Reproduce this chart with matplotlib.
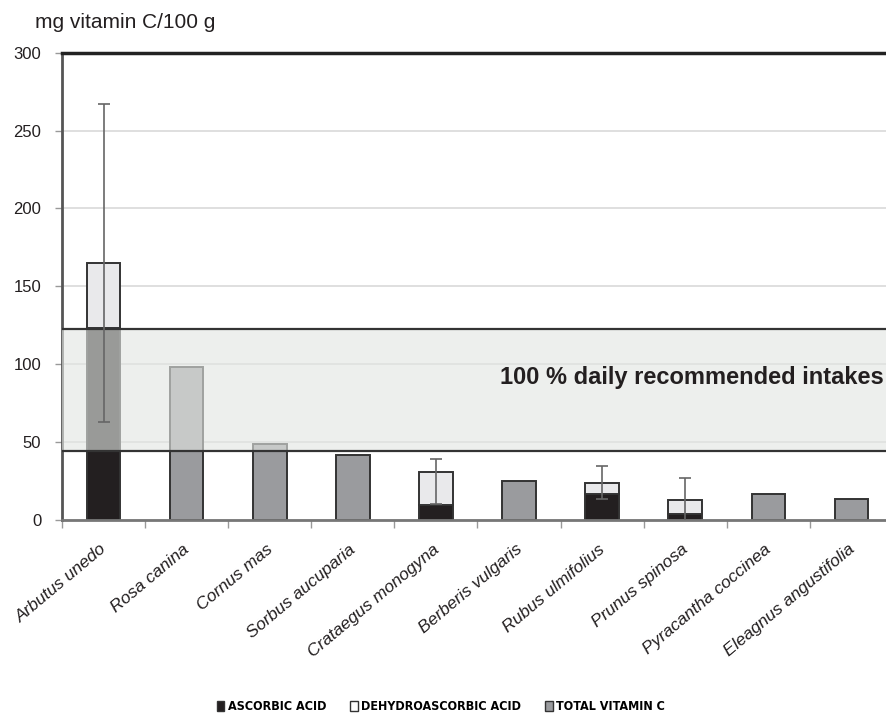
import matplotlib
matplotlib.use("Agg")
import matplotlib.pyplot as plt
from matplotlib.patches import Patch
from matplotlib.transforms import ScaledTranslation
import numpy as np

plt.rcParams['font.family'] = ['Liberation Sans', 'DejaVu Sans']

# Species and vitamin C contents (mg / 100 g)
species = ["Arbutus unedo", "Rosa canina", "Cornus mas", "Sorbus aucuparia",
           "Crataegus monogyna", "Berberis vulgaris", "Rubus ulmifolius",
           "Prunus spinosa", "Pyracantha coccinea", "Eleagnus angustifolia"]
ascorbic = [123.0, 0, 0, 0, 9.2, 0, 16.1, 3.7, 0, 0]
dehydroascorbic = [42.0, 0, 0, 0, 21.5, 0, 7.5, 9.0, 0, 0]
total_only = [0, 98.0, 48.7, 41.4, 0, 24.6, 0, 0, 16.1, 13.5]
err_low = [102.0, 0, 0, 0, 20.9, 0, 10.7, 14.3, 0, 0]
err_high = [102.5, 0, 0, 0, 7.9, 0, 10.7, 14.3, 0, 0]

# Daily recommended intake range
dri_low, dri_high = 43.8, 122.3
yticks = [0, 50, 100, 150, 200, 250, 300]

black = "#231f20"
light = "#e9e9eb"
gray = "#9a9b9e"
edge = "#333333"

fig = plt.figure(figsize=(8.87, 7.2), dpi=100)
ax = fig.add_axes([62/887, (720-519.5)/720, 831/887, (519.5-53)/720])

x = np.arange(len(species))
w = 0.405
asc = np.array(ascorbic)
deh = np.array(dehydroascorbic)
tot = np.array(total_only)

ax.bar(x, asc, w, color=black, edgecolor=edge, lw=1.4, zorder=2)
ax.bar(x, deh, w, bottom=asc, color=light, edgecolor=edge, lw=1.4, zorder=2)
ax.bar(x, tot, w, color=gray, edgecolor=edge, lw=1.4, zorder=2)

# Recommended intake band laid over the bars
ax.axhspan(dri_low, dri_high, facecolor="#e3e6e3", alpha=0.62,
           edgecolor="none", zorder=4)
ax.axhline(dri_low, color=edge, lw=1.6, zorder=5)
ax.axhline(dri_high, color=edge, lw=1.6, zorder=5)
ax.text(9.39, 91.5, "100 % daily recommended intakes", ha="right", va="center",
        fontsize=17, fontweight="bold", color="#231f20", zorder=6)

# Error bars
top = asc + deh
has_err = (np.array(err_low) + np.array(err_high)) > 0
ax.errorbar(x[has_err], top[has_err],
            yerr=[np.array(err_low)[has_err], np.array(err_high)[has_err]],
            fmt="none", ecolor="#666666", elinewidth=1.2, capsize=4,
            capthick=1.2, zorder=7)

ax.set_xlim(-0.5, len(species) - 0.5)
ax.set_ylim(0, 300)
ax.set_yticks(yticks)
ax.yaxis.grid(True, color="#d9d9d9", lw=1.2, zorder=0)
ax.set_axisbelow(True)
ax.tick_params(axis="y", length=5, width=1, color="#999999", pad=10,
               labelsize=12, labelcolor="#231f20")

ax.set_xticks(np.arange(-0.5, len(species) - 0.5, 1.0))
ax.set_xticklabels([])
ax.tick_params(axis="x", which="major", length=6, width=1, color="#999999")
ax.set_xticks(x, minor=True)
ax.set_xticklabels(species, minor=True, rotation=40, ha="right",
                   rotation_mode="anchor", fontsize=12.5, style="italic",
                   color="#231f20")
ax.tick_params(axis="x", which="minor", length=0, pad=16)
shift = ScaledTranslation(-4/100, 0, fig.dpi_scale_trans)
for lbl in ax.get_xticklabels(minor=True):
    lbl.set_transform(lbl.get_transform() + shift)

ax.spines["right"].set_visible(False)
ax.spines["left"].set_color("#555555")
ax.spines["left"].set_linewidth(2)
ax.spines["top"].set_color("#222222")
ax.spines["top"].set_linewidth(2.5)
ax.spines["bottom"].set_color("#777777")
ax.spines["bottom"].set_linewidth(2)

fig.text(35/887, 1 - 22/720, "mg vitamin C/100 g", ha="left", va="center",
         fontsize=15, color="#231f20")

handles = [Patch(facecolor=black, edgecolor=edge, lw=1),
           Patch(facecolor="white", edgecolor=edge, lw=1),
           Patch(facecolor=gray, edgecolor=edge, lw=1)]
labels = ["ASCORBIC ACID", "DEHYDROASCORBIC ACID", "TOTAL VITAMIN C"]
fig.legend(handles, labels, loc="center", bbox_to_anchor=(441/887, 1 - 707/720),
           ncol=3, frameon=False, handlelength=0.6, handleheight=0.8,
           handletextpad=0.3, columnspacing=1.9,
           prop={"family": ["DejaVu Sans"], "stretch": "condensed",
                 "weight": "bold", "size": 9})

fig.savefig("out.png", dpi=100)
